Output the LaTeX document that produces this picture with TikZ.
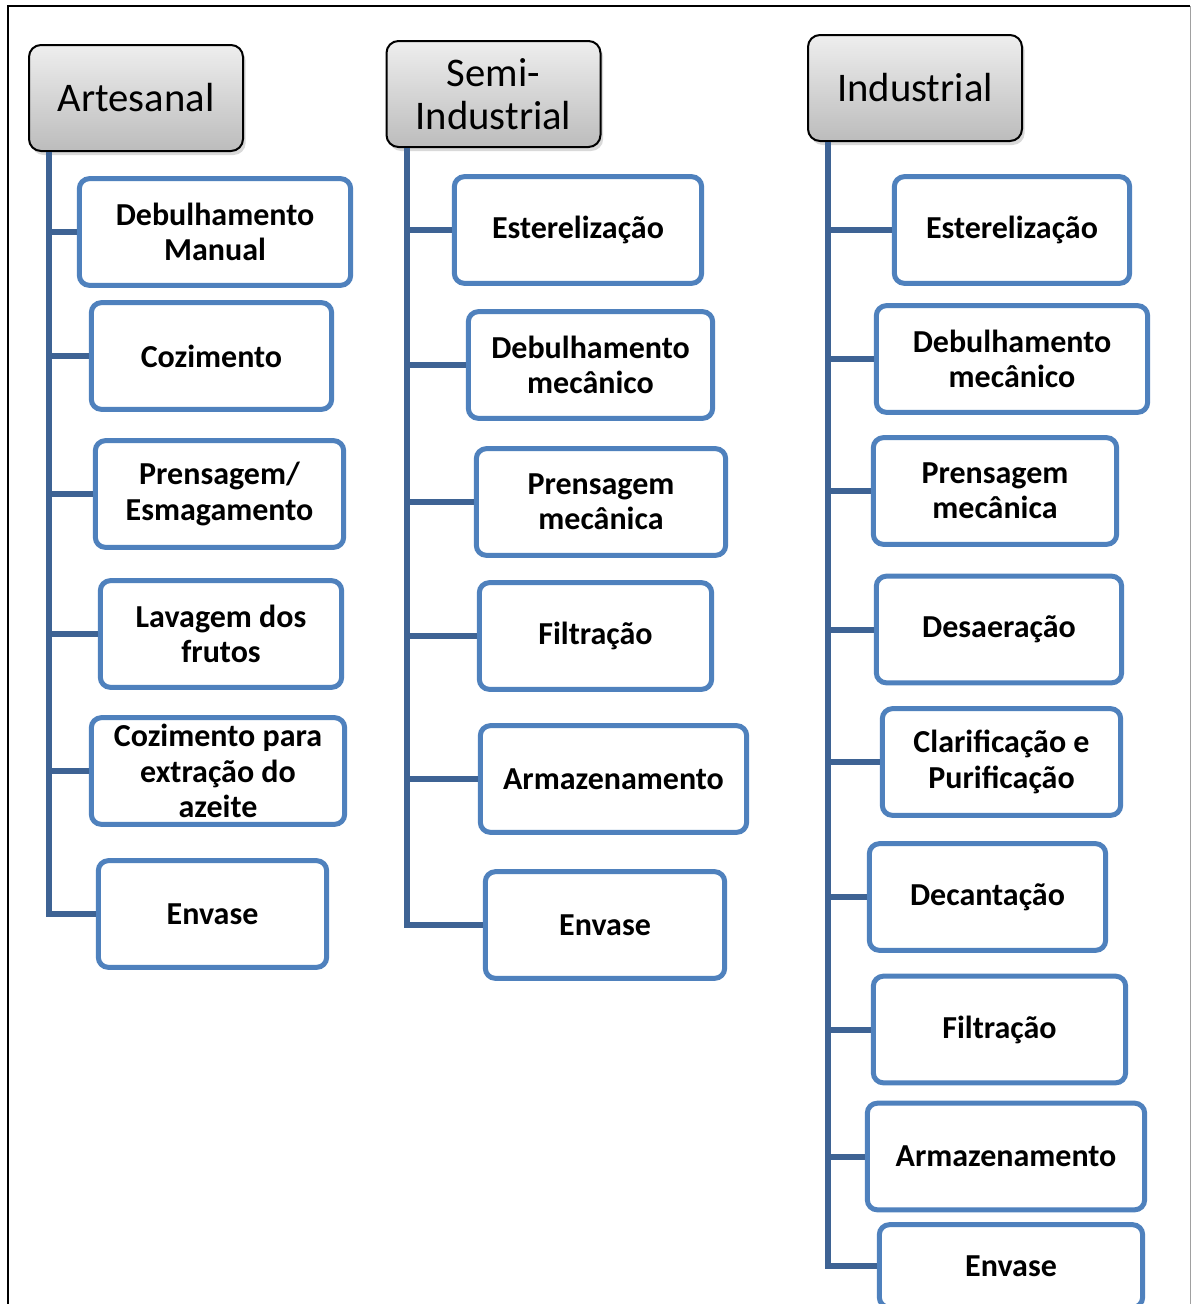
\documentclass[tikz,border=0pt]{standalone}
\usepackage{fontspec}
\setmainfont{Carlito}
\usetikzlibrary{shadows}
\definecolor{boxblue}{RGB}{79,129,189}
\definecolor{linkblue}{RGB}{62,99,148}
\definecolor{hdrtop}{RGB}{238,238,238}
\definecolor{hdrbot}{RGB}{188,188,188}

\begin{document}
\begin{tikzpicture}[x=0.75pt,y=0.75pt,yscale=-1,xscale=1,
  stage/.style={draw=boxblue, line width=3.75pt, rounded corners=7.5pt, fill=white, minimum height=80pt, align=center, inner sep=1pt, font=\fontsize{24}{26.5}\selectfont\bfseries},
  level/.style={draw=black, line width=1.5pt, rounded corners=9pt, top color=hdrtop, bottom color=hdrbot, minimum width=160.5pt, minimum height=79.5pt, align=center, font=\fontsize{30.5}{32}\selectfont, drop shadow={shadow xshift=2pt, shadow yshift=-3pt, opacity=0.3}},
  branch/.style={draw=linkblue, line width=4.5pt}]
%set diagram size 1191 x 1304
\useasboundingbox (0,0) rectangle (1191,1304);
\clip (0,0) rectangle (1191,1304);

%Shape: Frame
\draw [line width=1.5pt] (8,1304) -- (8,6) -- (1190,6) ;
\draw [color={rgb, 255:red, 160; green, 160; blue, 160 }, line width=0.75pt] (1190,6) -- (1190,1304) ;

%Headers
\node (artesanal) [level] at (136,98) {Artesanal};
\node (semi) [level] at (493.5,94) {Semi-\\Industrial};
\node (industrial) [level] at (915,88) {Industrial};

%Column: Artesanal
\node (a1) [stage, minimum width=203.5pt] at (215,232) {Debulhamento\\Manual};
\node (a2) [stage, minimum width=180.25pt] at (211.5,356) {Cozimento};
\node (a3) [stage, minimum width=186.25pt] at (219.5,494) {Prensagem/\\Esmagamento};
\node (a4) [stage, minimum width=181pt] at (221,634) {Lavagem dos\\frutos};
\node (a5) [stage, minimum width=190pt] at (218,771) {Cozimento para\\extração do\\azeite};
\node (a6) [stage, minimum width=171.25pt] at (212.5,914) {Envase};

%Column: Semi-Industrial
\node (b1) [stage, minimum width=185.5pt] at (578,230) {Esterelização};
\node (b2) [stage, minimum width=183.25pt] at (590.5,365) {Debulhamento\\mecânico};
\node (b3) [stage, minimum width=187pt] at (601,502) {Prensagem\\mecânica};
\node (b4) [stage, minimum width=174.25pt] at (595.5,636) {Filtração};
\node (b5) [stage, minimum width=199.75pt] at (613.5,779) {Armazenamento};
\node (b6) [stage, minimum width=179.5pt] at (605,925) {Envase};

%Column: Industrial
\node (c1) [stage, minimum width=176.5pt] at (1012,230) {Esterelização};
\node (c2) [stage, minimum width=203.5pt] at (1012,359) {Debulhamento\\mecânico};
\node (c3) [stage, minimum width=182.5pt] at (995,491) {Prensagem\\mecânica};
\node (c4) [stage, minimum width=184pt] at (999,629.5) {Desaeração};
\node (c5) [stage, minimum width=178.75pt] at (1001.5,762) {Clarificação e\\Purificação};
\node (c6) [stage, minimum width=177.25pt] at (987.5,897) {Decantação};
\node (c7) [stage, minimum width=189.25pt] at (999.5,1029.5) {Filtração};
\node (c8) [stage, minimum width=208pt] at (1006,1156.5) {Armazenamento};
%last box runs past the bottom edge
\node (c9) [stage, minimum width=197.5pt, minimum height=62pt] at (1011,1266) {Envase};

%Connectors
\draw [branch] ([xshift=15.75pt]artesanal.south west) |- (a1.west) ;
\draw [branch] ([xshift=15.75pt]artesanal.south west) |- (a2.west) ;
\draw [branch] ([xshift=15.75pt]artesanal.south west) |- (a3.west) ;
\draw [branch] ([xshift=15.75pt]artesanal.south west) |- (a4.west) ;
\draw [branch] ([xshift=15.75pt]artesanal.south west) |- (a5.west) ;
\draw [branch] ([xshift=15.75pt]artesanal.south west) |- (a6.west) ;

\draw [branch] ([xshift=15.75pt]semi.south west) |- (b1.west) ;
\draw [branch] ([xshift=15.75pt]semi.south west) |- (b2.west) ;
\draw [branch] ([xshift=15.75pt]semi.south west) |- (b3.west) ;
\draw [branch] ([xshift=15.75pt]semi.south west) |- (b4.west) ;
\draw [branch] ([xshift=15.75pt]semi.south west) |- (b5.west) ;
\draw [branch] ([xshift=15.75pt]semi.south west) |- (b6.west) ;

\draw [branch] ([xshift=15.75pt]industrial.south west) |- (c1.west) ;
\draw [branch] ([xshift=15.75pt]industrial.south west) |- (c2.west) ;
\draw [branch] ([xshift=15.75pt]industrial.south west) |- (c3.west) ;
\draw [branch] ([xshift=15.75pt]industrial.south west) |- (c4.west) ;
\draw [branch] ([xshift=15.75pt]industrial.south west) |- (c5.west) ;
\draw [branch] ([xshift=15.75pt]industrial.south west) |- (c6.west) ;
\draw [branch] ([xshift=15.75pt]industrial.south west) |- (c7.west) ;
\draw [branch] ([xshift=15.75pt]industrial.south west) |- (c8.west) ;
\draw [branch] ([xshift=15.75pt]industrial.south west) |- (c9.west) ;

\end{tikzpicture}
\end{document}
